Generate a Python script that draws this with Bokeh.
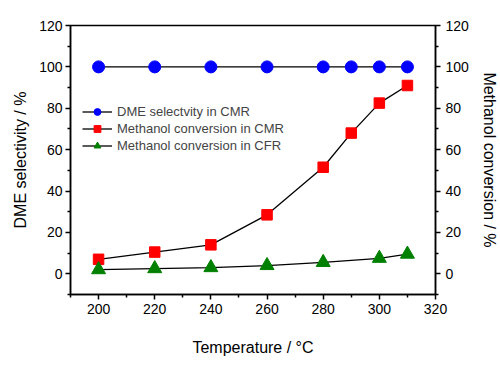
from bokeh.plotting import figure
from bokeh.models import LinearAxis, Range1d, FixedTicker, Legend, LegendItem
from bokeh.embed import file_html
from bokeh.resources import INLINE

temp_dme = [200, 220, 240, 260, 280, 290, 300, 310]
dme_sel = [100, 100, 100, 100, 100, 100, 100, 100]
temp_cmr = [200, 220, 240, 260, 280, 290, 300, 310]
conv_cmr = [7, 10.5, 14, 28.5, 51.5, 68, 82.5, 91]
temp_cfr = [200, 220, 240, 260, 280, 300, 310]
conv_cfr = [2, 2.5, 3, 4, 5.5, 7.5, 9.5]

x_ticks = [200, 220, 240, 260, 280, 300, 320]
x_minor = [190, 210, 230, 250, 270, 290, 310]
y_ticks = [0, 20, 40, 60, 80, 100, 120]
y_minor = [-10, 10, 30, 50, 70, 90, 110]

FONT = "Liberation Sans"

p = figure(width=500, height=368, output_backend="svg", toolbar_location=None,
           x_range=Range1d(190, 320), y_range=Range1d(-10, 120),
           min_border_left=70, min_border_right=64, min_border_top=25, min_border_bottom=74)
p.grid.visible = False
p.outline_line_color = "black"
p.outline_line_width = 1.5
p.background_fill_color = "white"
p.border_fill_color = "white"

def style_axis(ax):
    ax.axis_line_width = 1.5
    ax.major_tick_line_width = 1.5
    ax.minor_tick_line_width = 1.5
    ax.major_tick_out = 5
    ax.major_tick_in = 0
    ax.minor_tick_out = 3
    ax.minor_tick_in = 0
    ax.major_label_text_font = FONT
    ax.major_label_text_font_size = "14px"
    ax.major_label_text_color = "black"
    ax.axis_label_text_font = FONT
    ax.axis_label_text_font_size = "16px"
    ax.axis_label_text_font_style = "normal"
    ax.axis_label_text_color = "black"

p.xaxis.ticker = FixedTicker(ticks=x_ticks, minor_ticks=x_minor)
p.yaxis.ticker = FixedTicker(ticks=y_ticks, minor_ticks=y_minor)
p.xaxis.axis_label = "Temperature / °C"
p.yaxis.axis_label = "DME selectivity / %"
style_axis(p.xaxis[0])
style_axis(p.yaxis[0])
p.xaxis.major_label_standoff = 4
p.xaxis.axis_label_standoff = 22
p.yaxis.major_label_standoff = 3
p.yaxis.axis_label_standoff = 7

ra = LinearAxis(ticker=FixedTicker(ticks=y_ticks, minor_ticks=y_minor),
                axis_label="Methanol conversion / %")
style_axis(ra)
ra.major_label_standoff = 5
ra.axis_label_standoff = 9
p.add_layout(ra, "right")

l1 = p.line(temp_dme, dme_sel, line_color="black", line_width=1.3)
m1 = p.scatter(temp_dme, dme_sel, marker="circle", size=12, fill_color="#0000ff", line_color="#0000ff")
l2 = p.line(temp_cmr, conv_cmr, line_color="black", line_width=1.3)
m2 = p.scatter(temp_cmr, conv_cmr, marker="square", size=10.5, fill_color="#ff0000", line_color="#ff0000")
l3 = p.line(temp_cfr, conv_cfr, line_color="black", line_width=1.3)
m3 = p.scatter(temp_cfr, conv_cfr, marker="triangle", size=14, fill_color="#008000", line_color="#008000")

legend = Legend(items=[
    LegendItem(label="DME selectvity in CMR", renderers=[l1, m1]),
    LegendItem(label="Methanol conversion in CMR", renderers=[l2, m2]),
    LegendItem(label="Methanol conversion in CFR", renderers=[l3, m3]),
], location=(12, 140))
legend.border_line_color = None
legend.background_fill_alpha = 0
legend.label_text_font = FONT
legend.label_text_font_size = "13px"
legend.glyph_width = 30
legend.glyph_height = 17
legend.label_height = 17
legend.label_standoff = 5
legend.spacing = 0
legend.padding = 2
legend.margin = 0
p.add_layout(legend)

open("out.html", "w").write(file_html(p, INLINE))
